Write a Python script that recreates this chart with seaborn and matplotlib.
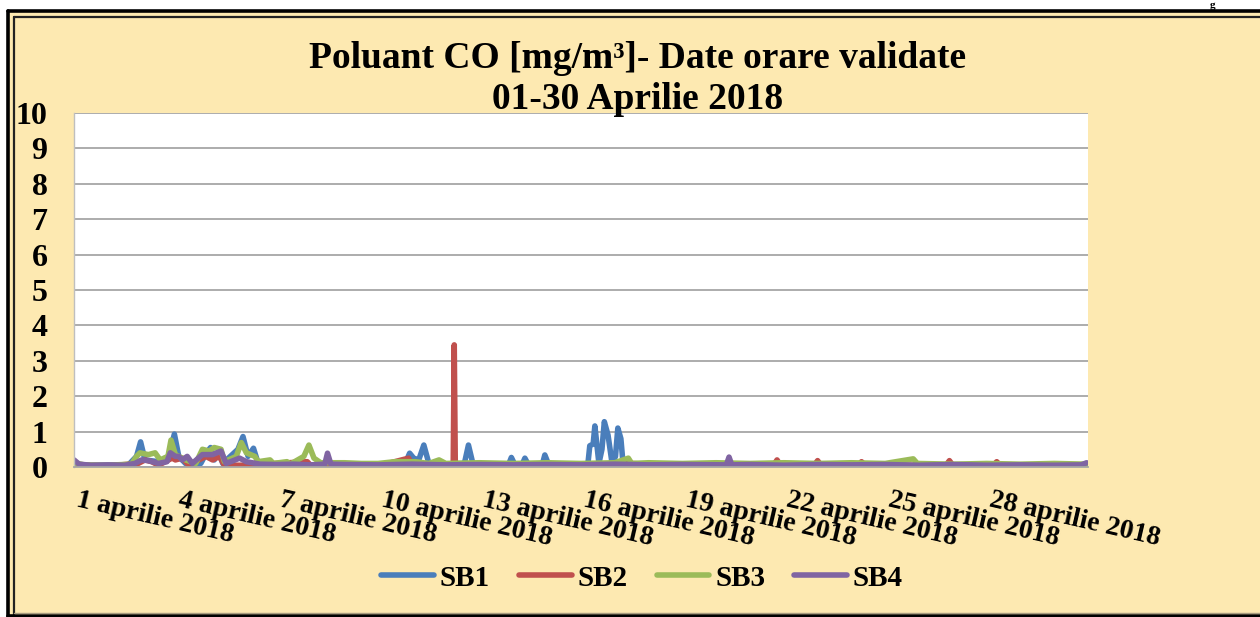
import matplotlib
matplotlib.use("Agg")
import matplotlib.pyplot as plt
import matplotlib.transforms as mtransforms
import seaborn as sns
import pandas as pd
from matplotlib.lines import Line2D
from matplotlib.patches import Rectangle

W, H = 1260, 617

# ---------------- data (day of April, hourly resolution as day fractions) ----------------
series_names = ["SB1", "SB2", "SB3", "SB4"]
series_colors = ["#4A7EBB", "#C0504D", "#9BBB59", "#8064A2"]

sb1_t = [1.0, 1.5, 2.0, 2.6, 2.85, 2.97, 3.1, 3.5, 3.8, 3.97, 4.1, 4.3, 4.75, 4.92, 5.04, 5.15, 5.28, 5.4, 5.85, 6.0,
         6.15, 6.31, 6.45, 7.0, 8.0, 9.0, 10.0, 10.8, 10.93, 11.05, 11.2, 11.35, 11.5, 12.0, 12.55, 12.67, 12.8, 13.85,
         13.94, 14.05, 14.25, 14.34, 14.45, 14.85, 14.93, 15.05, 16.2, 16.26, 16.36, 16.41, 16.53, 16.62, 16.69, 16.8,
         16.92, 17.02, 17.09, 17.18, 17.25, 18, 20, 22, 24, 26, 28, 30, 30.96]
sb1_v = [0.08, 0.04, 0.05, 0.05, 0.3, 0.71, 0.2, 0.15, 0.3, 0.93, 0.3, 0.1, 0.1, 0.4, 0.55, 0.2, 0.45, 0.1, 0.5, 0.86,
         0.3, 0.53, 0.1, 0.06, 0.05, 0.05, 0.08, 0.1, 0.39, 0.25, 0.2, 0.62, 0.1, 0.08, 0.1, 0.62, 0.1, 0.05,
         0.27, 0.05, 0.05, 0.25, 0.05, 0.05, 0.34, 0.05, 0.05, 0.6, 0.65, 1.16, 0.1, 0.5, 1.28, 0.9,
         0.1, 0.3, 1.1, 0.8, 0.03, 0.03, 0.02, 0.02, 0.03, 0.02, 0.03, 0.02, 0.03]

sb2_t = [1.0, 2.0, 2.9, 3.1, 3.3, 3.5, 3.9, 4.0, 4.2, 4.4, 4.9, 5.1, 5.3, 5.45, 6.0, 7.9, 8.0, 8.2, 10.0, 10.9,
         11.0, 12.0, 12.22, 12.25, 12.28, 13.0, 15.0, 17.5, 19.0, 21.7, 21.8, 21.9, 22.9, 23.0, 23.1, 24.2, 24.3,
         24.4, 26.8, 26.9, 27.0, 28.2, 28.3, 28.4, 30.96]
sb2_v = [0.05, 0.03, 0.1, 0.2, 0.15, 0.05, 0.25, 0.2, 0.25, 0.05, 0.3, 0.2, 0.3, 0.05, 0.05, 0.15, 0.05, 0.03, 0.03, 0.25,
         0.05, 0.05, 0.1, 3.45, 0.1, 0.05, 0.03, 0.1, 0.03, 0.05, 0.2, 0.05, 0.05, 0.18, 0.05, 0.05, 0.15,
         0.05, 0.05, 0.18, 0.05, 0.05, 0.15, 0.05, 0.05]

sb3_t = [1.0, 1.3, 2.0, 2.7, 2.85, 2.95, 3.2, 3.4, 3.55, 3.78, 3.87, 4.0, 4.3, 4.6, 4.8, 5.0, 5.15, 5.35, 5.45, 5.8,
         5.95, 6.1, 6.35, 6.45, 6.8, 6.9, 7.3, 7.4, 7.8, 7.95, 8.1, 8.3, 9.0, 9.5, 10.0, 10.5, 11.1, 11.5, 11.8, 12.0,
         13.0, 14.0, 15.0, 16.0, 17.0, 17.4, 17.5, 18.0, 19.0, 20.0, 21.0, 22.0, 23.0, 24.0, 25.0, 25.83, 25.95,
         27.0, 28.0, 29.0, 30.0, 30.96]
sb3_v = [0.12, 0.06, 0.05, 0.08, 0.3, 0.4, 0.35, 0.4, 0.2, 0.3, 0.76, 0.35, 0.2, 0.1, 0.5, 0.45, 0.55, 0.5, 0.15, 0.3,
         0.69, 0.4, 0.3, 0.15, 0.2, 0.1, 0.15, 0.08, 0.3, 0.62, 0.25, 0.12, 0.12, 0.1, 0.1, 0.15, 0.15, 0.1, 0.2, 0.1,
         0.12, 0.1, 0.12, 0.1, 0.12, 0.25, 0.1, 0.12, 0.1, 0.12, 0.1, 0.12, 0.1, 0.12, 0.1, 0.23, 0.1,
         0.08, 0.1, 0.08, 0.1, 0.08]

sb4_t = [1.0, 1.15, 1.5, 2.0, 2.5, 2.8, 3.0, 3.2, 3.5, 3.75, 3.85, 4.0, 4.1, 4.2, 4.35, 4.5, 4.8, 5.1, 5.35, 5.5,
         5.9, 6.1, 6.5, 7.0, 7.5, 8.0, 8.42, 8.5, 8.6, 9.0, 10.0, 11.0, 12.0, 13.0, 14.0, 15.0, 16.0, 17.0, 18.0, 19.0,
         20.3, 20.38, 20.46, 21.0, 22.0, 23.0, 24.0, 25.0, 26.0, 27.0, 28.0, 29.0, 30.0, 30.8, 30.96]
sb4_v = [0.2, 0.08, 0.05, 0.06, 0.05, 0.1, 0.2, 0.18, 0.1, 0.15, 0.4, 0.3, 0.3, 0.2, 0.3, 0.1, 0.35, 0.35, 0.45, 0.1,
         0.25, 0.15, 0.08, 0.07, 0.08, 0.06, 0.08, 0.39, 0.08, 0.07, 0.06, 0.08, 0.06, 0.07, 0.06, 0.07, 0.06, 0.08,
         0.06, 0.07, 0.06, 0.28, 0.06, 0.07, 0.05, 0.07, 0.06, 0.07, 0.05, 0.07, 0.05, 0.06, 0.05, 0.06, 0.12]

tick_days = [1, 4, 7, 10, 13, 16, 19, 22, 25, 28]
tick_labels = [f"{d} aprilie 2018" for d in tick_days]
y_ticks = list(range(0, 11))

title_line1 = "Poluant CO [mg/m³]- Date orare validate"
title_line2 = "01-30 Aprilie 2018"

frames = []
for name, t, v in [("SB1", sb1_t, sb1_v), ("SB2", sb2_t, sb2_v), ("SB3", sb3_t, sb3_v), ("SB4", sb4_t, sb4_v)]:
    frames.append(pd.DataFrame({"t": t, "value": v, "series": name}))
df = pd.concat(frames, ignore_index=True)

# ---------------- figure ----------------
sns.set_style("white")
plt.rcParams["font.family"] = ["Liberation Serif", "DejaVu Serif"]
plt.rcParams["font.weight"] = "bold"
plt.rcParams["text.color"] = "black"
plt.rcParams["xtick.color"] = "black"
plt.rcParams["ytick.color"] = "black"

BG = "#FDE9B1"
fig = plt.figure(figsize=(W / 100, H / 100), dpi=100)
fig.patch.set_facecolor("white")

def fx(px):
    return px / W

def fy(py):
    return 1 - py / H

# beige chart area and frame
fig.add_artist(Rectangle((fx(8), fy(617)), fx(1260) - fx(8), fy(11) - fy(617),
                         transform=fig.transFigure, facecolor=BG, edgecolor="none", zorder=-10))
fig.add_artist(Line2D([fx(8), fx(1260)], [fy(11), fy(11)], transform=fig.transFigure, color="black", lw=2.6))
fig.add_artist(Line2D([fx(8), fx(8)], [fy(11), fy(617)], transform=fig.transFigure, color="black", lw=2.6))
fig.add_artist(Line2D([fx(13.5), fx(1260)], [fy(16.5), fy(16.5)], transform=fig.transFigure, color="#222222", lw=1.6))
fig.add_artist(Line2D([fx(13.5), fx(13.5)], [fy(16.5), fy(617)], transform=fig.transFigure, color="#222222", lw=1.6))
fig.add_artist(Line2D([fx(8), fx(1260)], [fy(615.5), fy(615.5)], transform=fig.transFigure, color="black", lw=2.6))
fig.add_artist(Line2D([fx(14), fx(1260)], [fy(613), fy(613)], transform=fig.transFigure, color="#A89C80", lw=1.0))

# small text fragment at top right (kept fully inside the canvas)
fig.text(fx(1213), fy(0.5), "g", ha="center", va="top", fontsize=8, fontweight="bold", color="black")

ax = fig.add_axes([fx(74), fy(467), fx(1088) - fx(74), fy(113) - fy(467)])
ax.set_facecolor("white")

sns.lineplot(data=df, x="t", y="value", hue="series", hue_order=series_names,
             palette=dict(zip(series_names, series_colors)), estimator=None, sort=True,
             linewidth=4.0, legend=False, ax=ax, solid_joinstyle="round", solid_capstyle="round")

ax.set_xlim(1.0, 31.0)
ax.set_ylim(0, 10)
ax.set_yticks(y_ticks)
ax.set_yticklabels([str(v) for v in y_ticks], fontsize=23, fontweight="bold")
ax.set_xticks(tick_days)
ax.set_xticklabels(tick_labels, fontsize=20, fontweight="bold", rotation=-13,
                   ha="left", va="top", rotation_mode="anchor")
ax.tick_params(axis="y", length=0, pad=19)
ax.tick_params(axis="x", length=0, pad=15)
shift = mtransforms.ScaledTranslation(6 / 100, 0, fig.dpi_scale_trans)
for lbl in ax.get_xticklabels():
    lbl.set_transform(lbl.get_transform() + shift)
ax.set_xlabel("")
ax.set_ylabel("")
ax.yaxis.grid(True, color="#A6A6A6", lw=1.3)
ax.xaxis.grid(False)
ax.set_axisbelow(True)
for s in ["top", "right"]:
    ax.spines[s].set_visible(False)
ax.spines["left"].set_color("#BFBFBF")
ax.spines["left"].set_linewidth(1.0)
ax.spines["bottom"].set_color("#A6A6A6")
ax.spines["bottom"].set_linewidth(1.3)

# title
fig.text(fx(638), fy(68), title_line1, ha="center", va="baseline", fontsize=27, fontweight="bold")
fig.text(fx(638), fy(109), title_line2, ha="center", va="baseline", fontsize=27, fontweight="bold")

# legend
handles = [Line2D([0], [0], color=c, lw=4, solid_capstyle="round") for c in series_colors]
fig.legend(handles, series_names, loc="center", bbox_to_anchor=(fx(642), fy(578)), ncol=4,
           frameon=False, handlelength=1.8, handletextpad=0.2, columnspacing=1.0,
           prop={"weight": "bold", "size": 21})

fig.savefig("out.png", dpi=100)
